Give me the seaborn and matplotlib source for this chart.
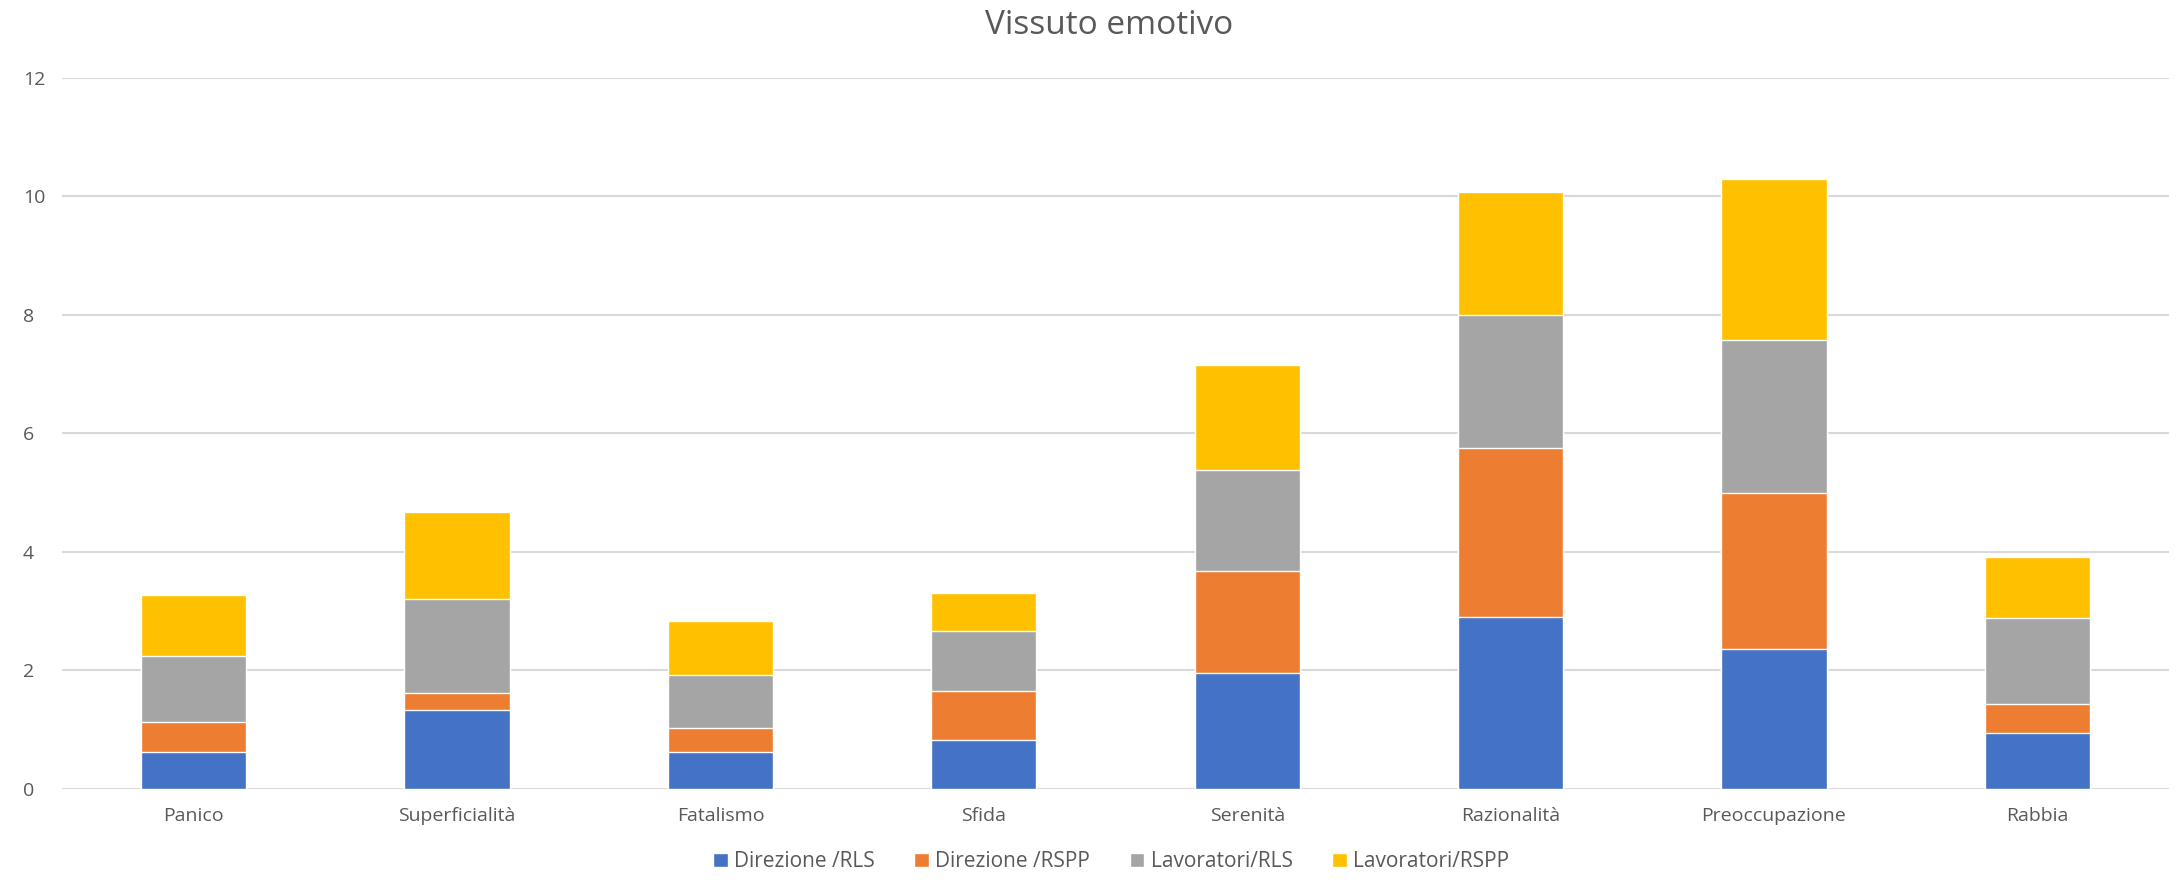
import numpy as np
import pandas as pd
import seaborn as sns
import matplotlib.pyplot as plt
from matplotlib.patches import Patch

# dati
categorie = ["Panico", "Superficialità", "Fatalismo", "Sfida",
             "Serenità", "Razionalità", "Preoccupazione", "Rabbia"]
direzione_rls = [0.62, 1.34, 0.62, 0.82, 1.95, 2.91, 2.37, 0.95]
direzione_rspp = [0.51, 0.28, 0.41, 0.84, 1.73, 2.84, 2.62, 0.49]
lavoratori_rls = [1.12, 1.59, 0.90, 1.00, 1.71, 2.25, 2.59, 1.45]
lavoratori_rspp = [1.03, 1.46, 0.90, 0.65, 1.76, 2.08, 2.72, 1.03]

serie = ["Direzione /RLS", "Direzione /RSPP", "Lavoratori/RLS", "Lavoratori/RSPP"]
colori = ["#4472C4", "#ED7D31", "#A5A5A5", "#FFC000"]

df = pd.DataFrame({
    "categoria": categorie,
    serie[0]: direzione_rls,
    serie[1]: direzione_rspp,
    serie[2]: lavoratori_rls,
    serie[3]: lavoratori_rspp,
})
cum = df[serie].cumsum(axis=1)

sns.set_style("white")
plt.rcParams['font.family'] = ['Open Sans', 'DejaVu Sans']
testo = "#595959"

fig = plt.figure(figsize=(21.83, 8.84), dpi=100)
ax = fig.add_axes([0.0284, 0.1075, 0.9652, 0.8043])

# barre impilate: si disegnano i totali cumulativi dal piu' alto al piu' basso
for s, c in zip(serie[::-1], colori[::-1]):
    sns.barplot(x=df["categoria"], y=cum[s], color=c, width=0.4,
                saturation=1, ax=ax, zorder=3)

ax.set_ylim(0, 12)
ax.set_xlim(-0.5, 7.5)
ax.set_yticks(np.arange(0, 13, 2))
ax.yaxis.grid(True, color="#d9d9d9", linewidth=1.5, zorder=0)
ax.xaxis.grid(False)
for sp in ax.spines.values():
    sp.set_visible(False)
ax.tick_params(axis="both", length=0, labelsize=14, labelcolor=testo)
ax.tick_params(axis="x", pad=13)
ax.tick_params(axis="y", pad=28)
for lab in ax.get_yticklabels():
    lab.set_horizontalalignment("left")
ax.set_xlabel("")
ax.set_ylabel("")

fig.suptitle("Vissuto emotivo", x=0.508, y=0.99, fontsize=24, color=testo)

handles = [Patch(facecolor=c, label=s) for s, c in zip(serie, colori)]
fig.legend(handles=handles, loc="lower center", bbox_to_anchor=(0.509, -0.008),
           ncol=4, frameon=False, fontsize=15, labelcolor=testo,
           handlelength=0.7, handleheight=0.7, handletextpad=0.3, columnspacing=1.9)

fig.savefig("out.png", dpi=100, facecolor="white")
